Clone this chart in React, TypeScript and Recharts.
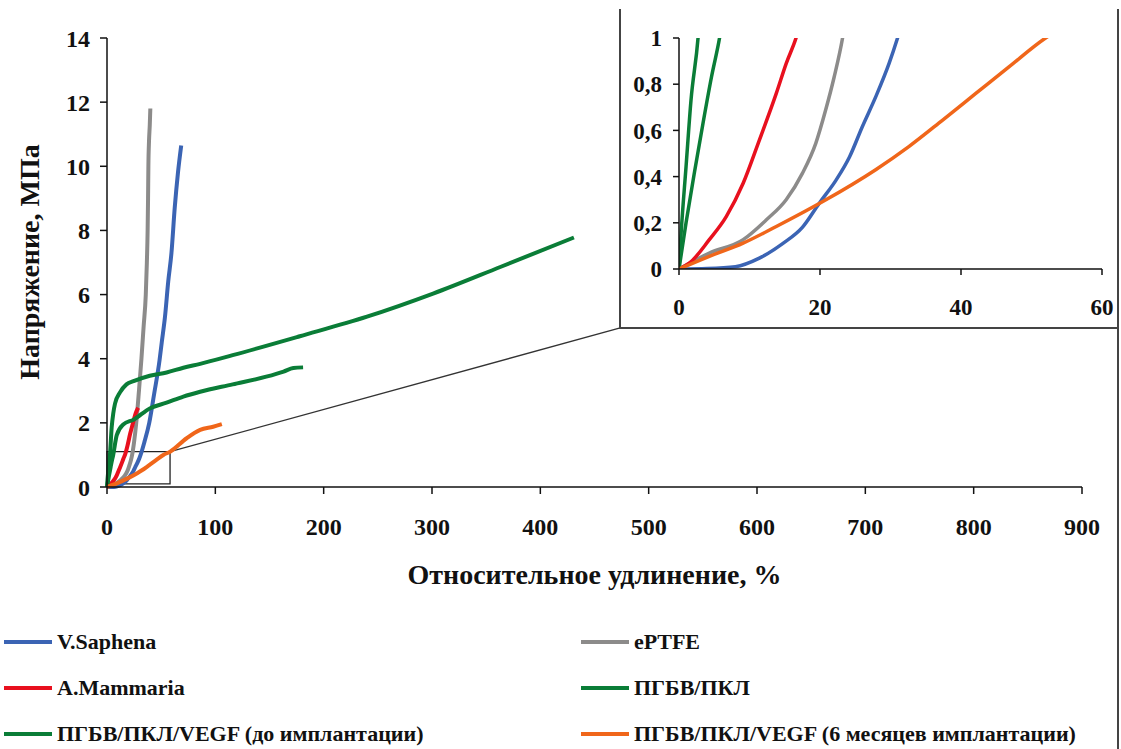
import React from "react";
import {
  LineChart,
  Line,
  XAxis,
  YAxis,
  Label,
  ReferenceArea,
  ReferenceLine,
} from "recharts";

// strain (%) vs stress (MPa)
const vSaphena = [
  [0, 0], [4, 0.002], [8, 0.01], [11.4, 0.047], [14.7, 0.11], [17.5, 0.18],
  [19.9, 0.285], [22.3, 0.386], [24.2, 0.486], [26, 0.616], [27.9, 0.745],
  [29.8, 0.89], [31, 1.0], [34.5, 1.4], [39, 2.0], [43.5, 2.9], [48.5, 3.95],
  [50.5, 4.5], [53.5, 5.3], [56.5, 6.4], [59.5, 7.3], [62.5, 8.7],
  [65.5, 9.8], [68.5, 10.65],
];

const ePTFE = [
  [0, 0], [4.3, 0.069], [9.1, 0.127], [12.4, 0.213], [15.2, 0.3],
  [17.5, 0.414], [19.4, 0.544], [20.8, 0.688], [22, 0.83], [23.2, 1.0],
  [25, 1.4], [27, 2], [29.5, 3], [31.8, 4], [33.8, 5], [35.8, 6], [36.8, 7],
  [37.5, 8], [37.9, 9], [38.2, 10], [38.8, 10.8], [39.5, 11.3], [40, 11.8],
];

const aMammaria = [
  [0, 0], [1.5, 0.026], [4.3, 0.127], [6.7, 0.227], [9.1, 0.371],
  [11.4, 0.558], [13.8, 0.76], [15.2, 0.889], [16.6, 1.0], [19, 1.3],
  [21.3, 1.65], [24, 2.0], [26.5, 2.3], [28.8, 2.47],
];

const pgbvPkl = [
  [0, 0], [0.3, 0.155], [1, 0.443], [1.7, 0.73], [2.7, 1.0], [4.3, 1.85],
  [5.8, 2.3], [7.4, 2.6], [12, 2.95], [18, 3.2], [24.5, 3.3], [39.5, 3.47],
  [55, 3.57], [70.5, 3.72], [86, 3.84], [116, 4.11], [178, 4.7],
  [240, 5.31], [301, 6.03], [363, 6.86], [431, 7.78],
];

const pgbvPklVegfBefore = [
  [0, 0], [1, 0.2], [2.2, 0.42], [3.4, 0.63], [4.6, 0.83], [5.75, 1.0],
  [7.2, 1.3], [9, 1.62], [15, 1.95], [24.5, 2.1], [39.5, 2.45], [55, 2.63],
  [70.5, 2.82], [86, 2.97], [116, 3.2], [147, 3.44], [163, 3.6],
  [172, 3.71], [181, 3.73],
];

const pgbvPklVegf6m = [
  [0, 0], [4.3, 0.055], [9.1, 0.112], [13.8, 0.184], [20.4, 0.292],
  [27.9, 0.43], [32.6, 0.53], [37.4, 0.645], [42.1, 0.76], [46.8, 0.875],
  [52, 1.0], [58.2, 1.1], [73.5, 1.52], [86, 1.78], [98, 1.88], [106, 1.96],
];

const xTicks = [0, 100, 200, 300, 400, 500, 600, 700, 800, 900];
const yTicks = [0, 2, 4, 6, 8, 10, 12, 14];
const insetXTicks = [0, 20, 40, 60];
const insetYTicks = [0, 0.2, 0.4, 0.6, 0.8, 1];

// zoom box in the main chart and the end of its leader line
const zoomBox = { x1: 0, x2: 58.2, y1: 0.1, y2: 1.1 };
const leaderEnd = { x: 473.7, y: 4.96 };

const toPoints = (pairs: number[][]) => pairs.map(([x, y]) => ({ x, y }));

const series = [
  { name: "V.Saphena", color: "#3b64b4", points: toPoints(vSaphena) },
  { name: "ePTFE", color: "#8c8b8a", points: toPoints(ePTFE) },
  { name: "A.Mammaria", color: "#e8101e", points: toPoints(aMammaria) },
  { name: "ПГБВ/ПКЛ", color: "#0a7d37", points: toPoints(pgbvPkl) },
  {
    name: "ПГБВ/ПКЛ/VEGF (до имплантации)",
    color: "#0a7d37",
    points: toPoints(pgbvPklVegfBefore),
  },
  {
    name: "ПГБВ/ПКЛ/VEGF (6 месяцев имплантации)",
    color: "#f0661a",
    points: toPoints(pgbvPklVegf6m),
  },
];

const FONT = "Liberation Serif, DejaVu Serif, serif";
const ink = "#111";

const tickStyle = (size: number) => ({
  fontSize: size,
  fontWeight: 700,
  fill: ink,
  fontFamily: FONT,
});

const axisLine = { stroke: ink, strokeWidth: 1.5 };

function MainChart() {
  return (
    <LineChart
      width={1121}
      height={600}
      margin={{ top: 38, right: 39, left: 0, bottom: 13 }}
      style={{ fontFamily: FONT }}
    >
      <XAxis
        type="number"
        dataKey="x"
        domain={[0, 900]}
        ticks={xTicks}
        interval={0}
        height={100}
        tickSize={7}
        tickMargin={24}
        axisLine={axisLine}
        tickLine={axisLine}
        tick={tickStyle(24)}
      >
        <Label
          value="Относительное удлинение, %"
          position="insideBottom"
          offset={3}
          style={{ fontSize: 28, fontWeight: 700, fill: ink, fontFamily: FONT }}
        />
      </XAxis>
      <YAxis
        type="number"
        domain={[0, 14]}
        ticks={yTicks}
        interval={0}
        width={107}
        tickSize={7}
        tickMargin={10}
        axisLine={axisLine}
        tickLine={axisLine}
        tick={tickStyle(24)}
      />
      <ReferenceArea
        x1={zoomBox.x1}
        x2={zoomBox.x2}
        y1={zoomBox.y1}
        y2={zoomBox.y2}
        fill="#fff"
        fillOpacity={0}
        stroke="#222"
        strokeWidth={1.3}
      />
      <ReferenceLine
        segment={[{ x: zoomBox.x2, y: zoomBox.y2 }, leaderEnd]}
        stroke="#333"
        strokeWidth={1.3}
      />
      {series.map((s) => (
        <Line
          key={s.name}
          data={s.points}
          dataKey="y"
          type="monotone"
          stroke={s.color}
          strokeWidth={4}
          dot={false}
          activeDot={false}
          isAnimationActive={false}
        />
      ))}
    </LineChart>
  );
}

function InsetChart() {
  return (
    <LineChart
      width={498}
      height={328}
      margin={{ top: 38, right: 16, left: 0, bottom: 0 }}
      style={{ fontFamily: FONT }}
    >
      <XAxis
        type="number"
        dataKey="x"
        domain={[0, 60]}
        ticks={insetXTicks}
        interval={0}
        allowDataOverflow
        height={59}
        tickSize={6}
        tickMargin={24}
        axisLine={axisLine}
        tickLine={axisLine}
        tick={tickStyle(23)}
      />
      <YAxis
        type="number"
        domain={[0, 1]}
        ticks={insetYTicks}
        interval={0}
        allowDataOverflow
        width={59}
        tickSize={6}
        tickMargin={11}
        axisLine={axisLine}
        tickLine={axisLine}
        tick={tickStyle(23)}
        tickFormatter={(v: number) => String(v).replace(".", ",")}
      />
      {series.map((s) => (
        <Line
          key={s.name}
          data={s.points}
          dataKey="y"
          type="monotone"
          stroke={s.color}
          strokeWidth={3.5}
          dot={false}
          activeDot={false}
          isAnimationActive={false}
        />
      ))}
    </LineChart>
  );
}

function LegendBlock() {
  return (
    <>
      {series.map((s, i) => {
        const col = i % 2;
        const row = Math.floor(i / 2);
        return (
          <div
            key={s.name}
            style={{
              position: "absolute",
              left: col === 0 ? 4 : 581,
              top: 642 + row * 46 - 13,
              height: 26,
              display: "flex",
              alignItems: "center",
              whiteSpace: "nowrap",
            }}
          >
            <span
              style={{
                display: "inline-block",
                width: 48,
                height: 4,
                background: s.color,
                marginRight: 5,
              }}
            />
            <span
              style={{
                fontSize: 22,
                fontWeight: 700,
                color: ink,
                fontFamily: FONT,
                lineHeight: "26px",
              }}
            >
              {s.name}
            </span>
          </div>
        );
      })}
    </>
  );
}

const frame = "#444";

export default function App() {
  return (
    <div
      style={{
        position: "absolute",
        left: 0,
        top: 0,
        width: 1121,
        height: 749,
        background: "#fff",
        overflow: "hidden",
        fontFamily: FONT,
      }}
    >
      <MainChart />

      <div
        style={{
          position: "absolute",
          left: 30,
          top: 262,
          transform: "translate(-50%, -50%) rotate(-90deg)",
          fontSize: 28,
          fontWeight: 700,
          color: ink,
          whiteSpace: "nowrap",
        }}
      >
        Напряжение, МПа
      </div>

      {/* inset frame */}
      <div style={{ position: "absolute", left: 619, top: 9, width: 1.5, height: 319, background: frame }} />
      <div style={{ position: "absolute", left: 619, top: 327, width: 500, height: 1.5, background: frame }} />
      <div style={{ position: "absolute", left: 1117, top: 9, width: 1.5, height: 740, background: frame }} />

      <div style={{ position: "absolute", left: 620, top: 0 }}>
        <InsetChart />
      </div>

      <LegendBlock />
    </div>
  );
}
